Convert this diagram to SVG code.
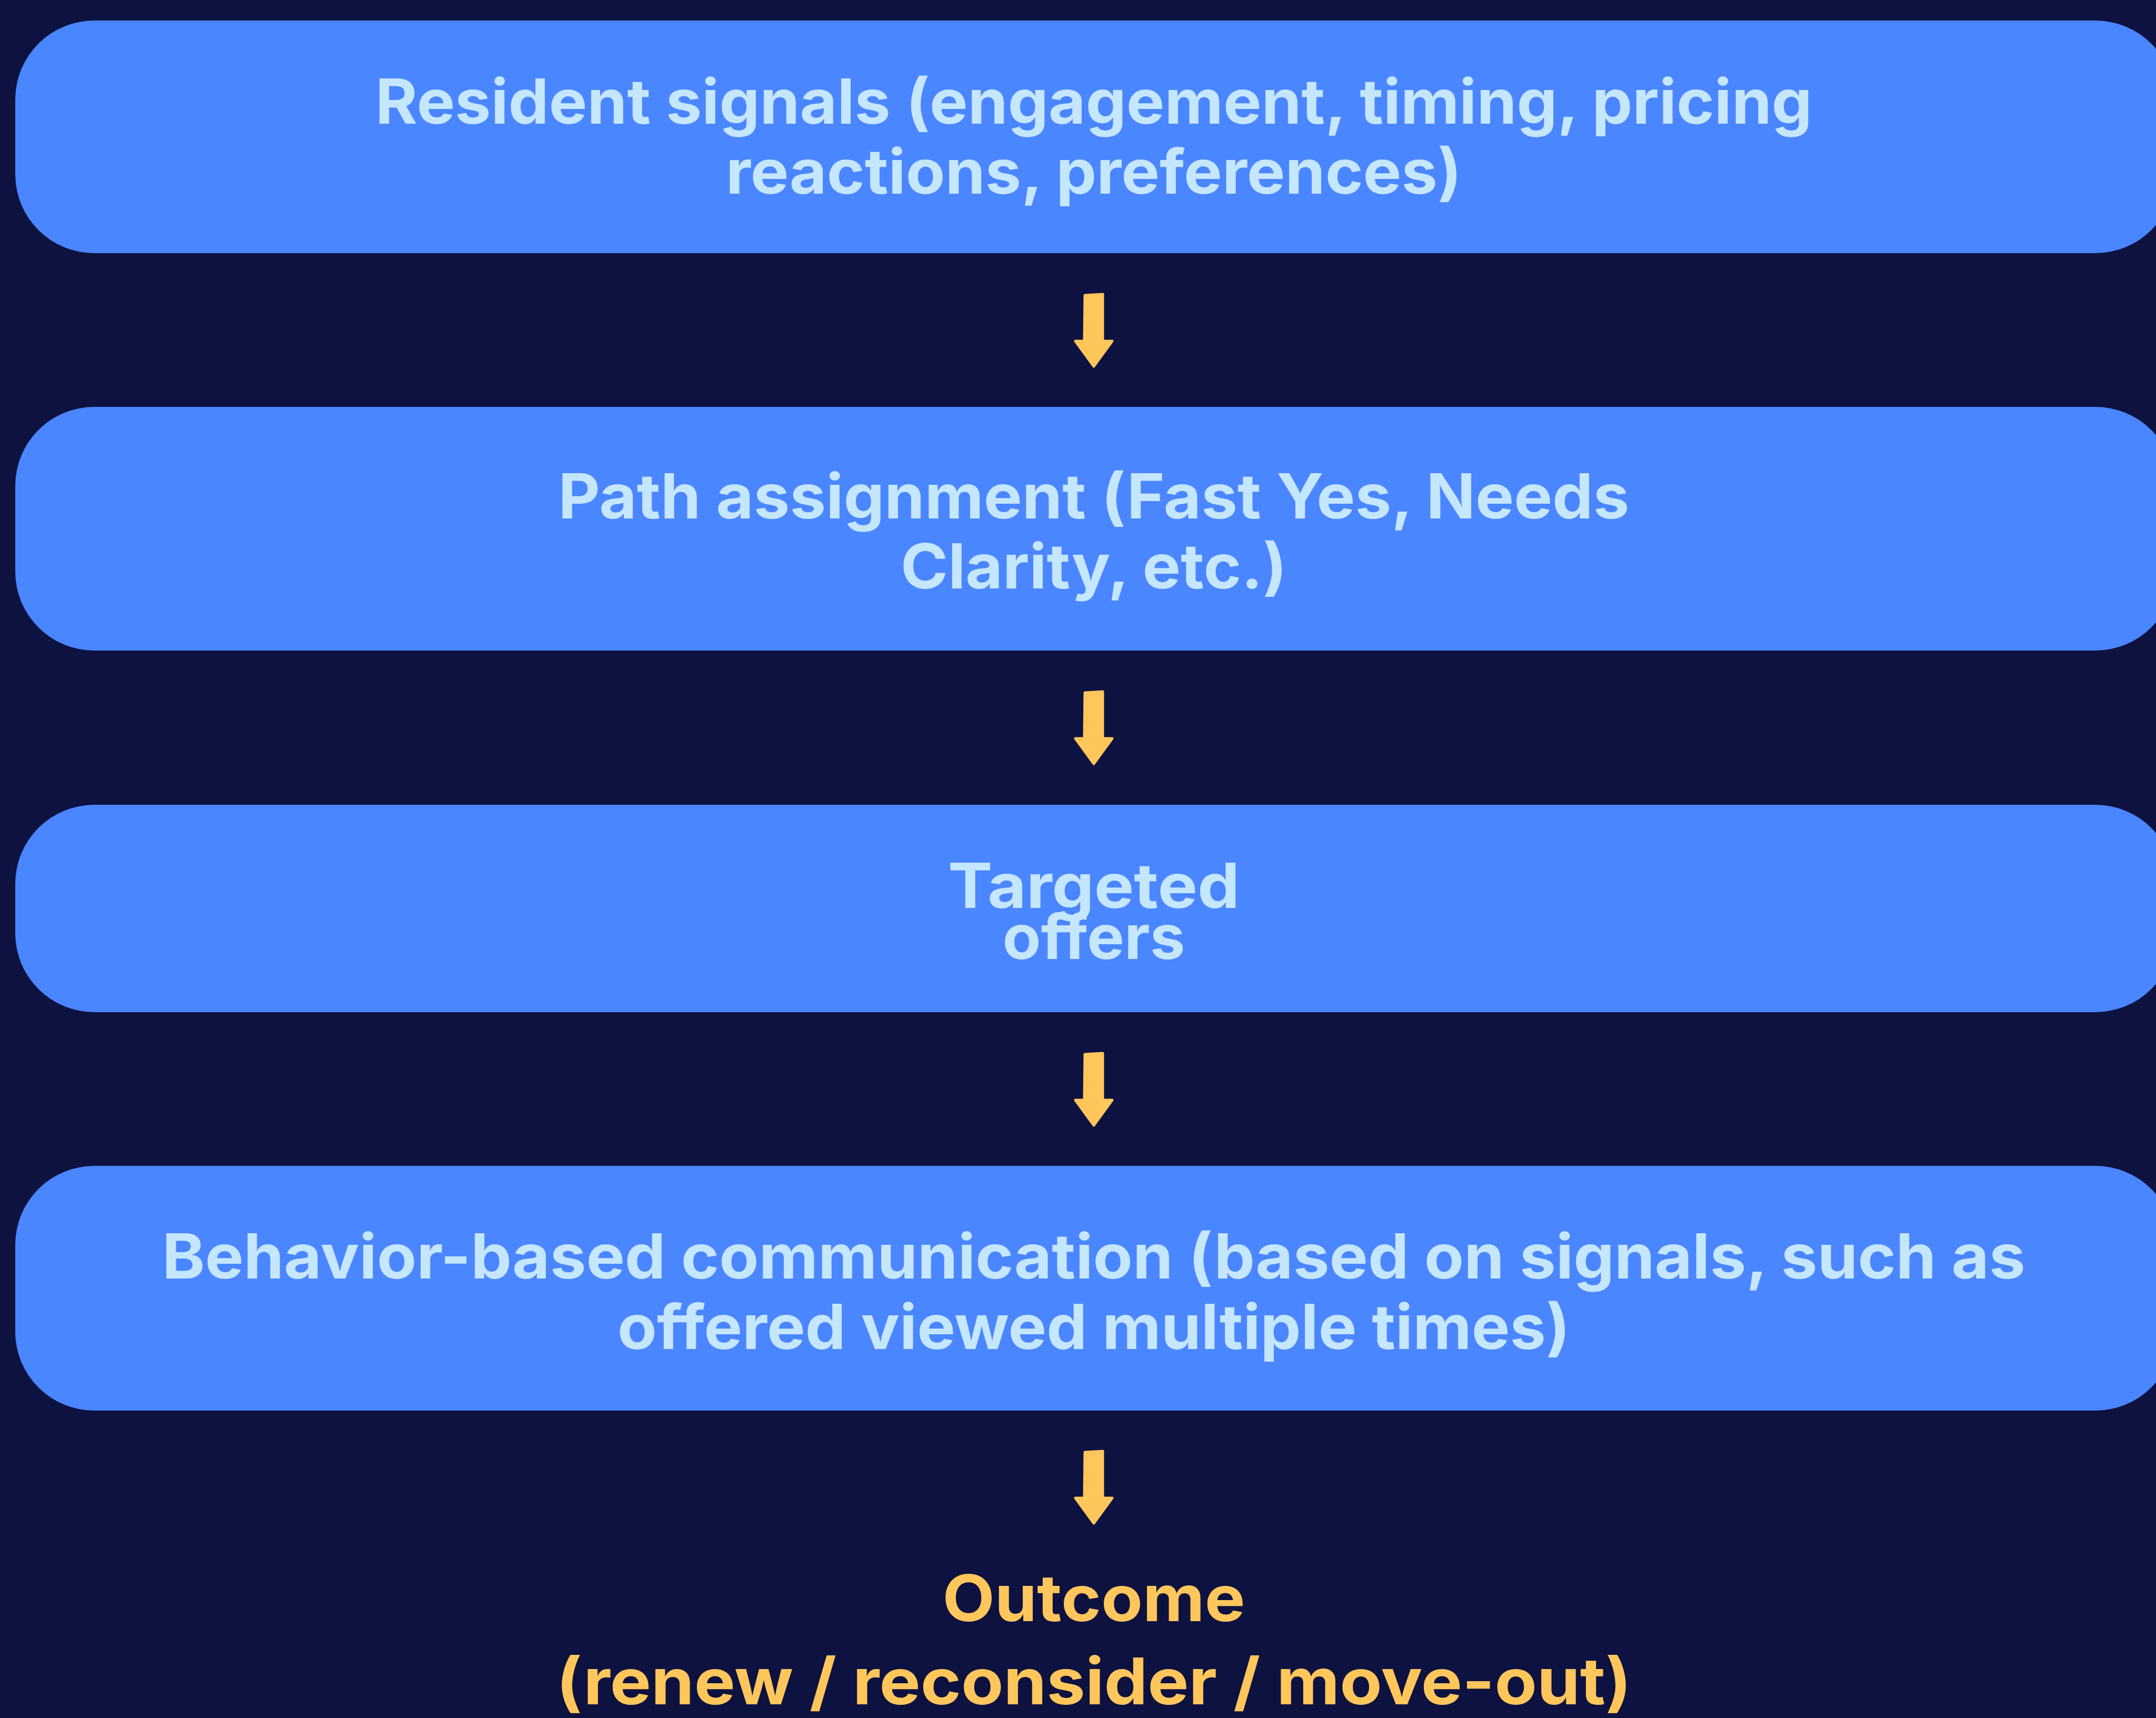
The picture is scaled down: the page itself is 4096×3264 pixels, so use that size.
<svg xmlns="http://www.w3.org/2000/svg" xmlns:xlink="http://www.w3.org/1999/xlink" width="4096" height="3264" viewBox="0 0 4096 3264">
<defs>
<style>
.box{fill:#4A86FF;}
text{font-variant-ligatures:none;}
.lbl{font-family:Inter,Lato,"Liberation Sans",sans-serif;font-weight:700;font-size:118px;fill:#C5E6FF;text-anchor:middle;}
.out{font-family:Inter,Lato,"Liberation Sans",sans-serif;font-weight:700;font-size:122px;fill:#FFC65C;text-anchor:middle;}
.arr{fill:#FFC65C;stroke:#FFC65C;stroke-width:5;stroke-linejoin:round;}
</style>
<path id="arrow" d="M -17,2 L 17,0 L 17,89 L 35,89 L 0,137 L -35,89 L -18,89 Z"/>
</defs>
<rect width="4096" height="3264" fill="#0E1240"/>
<g id="node-signals">
<rect class="box" x="29" y="39" width="4102" height="442" rx="150" ry="150"/>
<text class="lbl" x="2078" y="235" textLength="2730" lengthAdjust="spacingAndGlyphs">Resident signals (engagement, timing, pricing</text>
<text class="lbl" x="2078" y="368" textLength="1398" lengthAdjust="spacingAndGlyphs">reactions, preferences)</text>
</g>
<g id="node-path">
<rect class="box" x="29" y="773" width="4102" height="463" rx="150" ry="150"/>
<text class="lbl" x="2078" y="985" textLength="2035" lengthAdjust="spacingAndGlyphs">Path assignment (Fast Yes, Needs</text>
<text class="lbl" x="2078" y="1118" textLength="734" lengthAdjust="spacingAndGlyphs">Clarity, etc.)</text>
</g>
<g id="node-offers">
<rect class="box" x="29" y="1529" width="4102" height="394" rx="150" ry="150"/>
<text class="lbl" x="2078" y="1725" textLength="554" lengthAdjust="spacingAndGlyphs">Targeted</text>
<text class="lbl" x="2078" y="1822" textLength="347" lengthAdjust="spacingAndGlyphs">offers</text>
</g>
<g id="node-comm">
<rect class="box" x="29" y="2215" width="4102" height="465" rx="150" ry="150"/>
<text class="lbl" x="2078" y="2429" textLength="3540" lengthAdjust="spacingAndGlyphs">Behavior-based communication (based on signals, such as</text>
<text class="lbl" x="2078" y="2563" textLength="1810" lengthAdjust="spacingAndGlyphs">offered viewed multiple times)</text>
</g>
<g id="node-outcome">
<text class="out" x="2078" y="3080" textLength="575" lengthAdjust="spacingAndGlyphs">Outcome</text>
<text class="out" x="2078" y="3238" textLength="2043" lengthAdjust="spacingAndGlyphs">(renew / reconsider / move-out)</text>
</g>
<g id="connectors">
<use class="arr" xlink:href="#arrow" transform="translate(2078,559)"/>
<use class="arr" xlink:href="#arrow" transform="translate(2078,1314)"/>
<use class="arr" xlink:href="#arrow" transform="translate(2078,2001)"/>
<use class="arr" xlink:href="#arrow" transform="translate(2078,2757)"/>
</g>
</svg>
